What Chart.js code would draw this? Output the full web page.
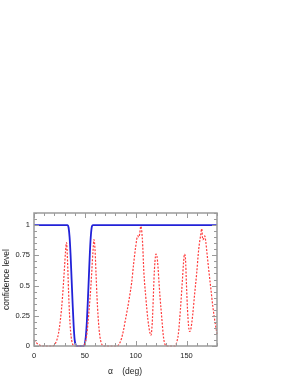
<!DOCTYPE html>
<html>
<head>
<meta charset="utf-8">
<script src="https://cdn.jsdelivr.net/npm/chart.js@4"></script>
<style>
  html, body { margin: 0; padding: 0; background: #fff; }
  #wrap { width: 300px; height: 388px; }
</style>
</head>
<body>
<div id="wrap"><canvas id="chart1"></canvas></div>
<script>
// angle (deg) and confidence level for the two curves
const blueAlpha = [0, 33, 34, 35, 36, 37, 38, 39, 40, 41, 42, 49, 50, 51, 52, 53, 54, 55, 56, 57, 58, 180];
const blueLevel = [1, 1, 0.98, 0.9, 0.75, 0.55, 0.35, 0.17, 0.05, 0.01, 0, 0, 0.02, 0.08, 0.2, 0.38, 0.58, 0.78, 0.92, 0.99, 1, 1];

const redAlpha = [0, 2, 4, 6, 8, 18, 21, 24, 26, 28, 30, 31, 32, 33, 34, 35, 36, 37, 38, 40,
  48, 50, 52, 54, 56, 58, 59, 60, 61, 62, 63, 64, 65, 66, 68,
  82, 84, 86, 88, 90, 92, 94, 96, 98, 100, 102, 103, 104, 105, 106, 107, 108, 110, 112, 114, 115,
  116, 117, 118, 119, 120, 121, 122, 123, 124, 125, 126, 127, 128, 129, 130,
  139, 140, 142, 144, 146, 147, 148, 149, 150, 151, 152, 153, 154, 156, 158, 160, 162, 164, 165,
  166, 167, 168, 169, 170, 172, 174, 176, 178, 180];
const redLevel = [0.05, 0.03, 0.015, 0.005, 0, 0, 0.02, 0.1, 0.22, 0.4, 0.65, 0.78, 0.855, 0.7, 0.45, 0.25, 0.12, 0.05, 0.015, 0,
  0, 0.02, 0.1, 0.28, 0.5, 0.78, 0.88, 0.8, 0.6, 0.4, 0.25, 0.14, 0.07, 0.03, 0,
  0, 0.02, 0.06, 0.13, 0.22, 0.31, 0.41, 0.52, 0.68, 0.82, 0.91, 0.9, 0.93, 0.99, 0.95, 0.82, 0.62, 0.4, 0.22, 0.11, 0.09,
  0.15, 0.32, 0.55, 0.7, 0.76, 0.74, 0.65, 0.52, 0.4, 0.3, 0.2, 0.1, 0.04, 0.01, 0,
  0, 0.02, 0.1, 0.3, 0.55, 0.68, 0.76, 0.72, 0.5, 0.3, 0.17, 0.12, 0.13, 0.25, 0.43, 0.6, 0.8, 0.92, 0.97,
  0.88, 0.89, 0.91, 0.86, 0.78, 0.62, 0.47, 0.32, 0.2, 0.1];

const xTicks = [0, 50, 100, 150];
const yTicks = [0, 0.25, 0.5, 0.75, 1];
const xTitle = 'α    (deg)';
const yTitle = 'confidence level';

function toPoints(xs, ys) {
  return xs.map((x, i) => ({ x: x, y: ys[i] }));
}

// frame, inward ticks and axis titles
const framePlugin = {
  id: 'frame',
  afterDraw(chart) {
    const ctx = chart.ctx;
    const a = chart.chartArea;
    const xs = chart.scales.x, ys = chart.scales.y;
    ctx.save();
    ctx.strokeStyle = '#9a9a9a';
    ctx.lineWidth = 1.5;
    ctx.strokeRect(a.left, a.top, a.right - a.left, a.bottom - a.top);
    ctx.lineWidth = 1;
    ctx.beginPath();
    for (let v = 0; v <= 180; v += 10) {
      const px = Math.round(xs.getPixelForValue(v)) + 0.5;
      const len = v % 50 === 0 ? 5 : 3;
      ctx.moveTo(px, a.bottom); ctx.lineTo(px, a.bottom - len);
      ctx.moveTo(px, a.top); ctx.lineTo(px, a.top + len);
    }
    for (let k = 0; k <= 22; k++) {
      const v = k * 0.05;
      const py = Math.round(ys.getPixelForValue(v)) + 0.5;
      const len = k % 5 === 0 ? 5 : 3;
      ctx.moveTo(a.left, py); ctx.lineTo(a.left + len, py);
      ctx.moveTo(a.right, py); ctx.lineTo(a.right - len, py);
    }
    ctx.stroke();

    ctx.fillStyle = '#222';
    ctx.font = '8.5px "Liberation Sans", Arial, sans-serif';
    ctx.textAlign = 'center';
    ctx.textBaseline = 'middle';
    ctx.fillText(xTitle, 125, 372);
    ctx.translate(6.5, (a.top + a.bottom) / 2);
    ctx.rotate(-Math.PI / 2);
    ctx.fillText(yTitle, 0, 0);
    ctx.restore();
  }
};

const ctx = document.getElementById('chart1');
const config = {
  type: 'line',
  data: {
    datasets: [
      {
        label: 'red',
        data: toPoints(redAlpha, redLevel),
        borderColor: '#ff3b3b',
        borderWidth: 1.2,
        borderDash: [2, 1.5],
        pointRadius: 0,
        cubicInterpolationMode: 'monotone'
      },
      {
        label: 'blue',
        data: toPoints(blueAlpha, blueLevel),
        borderColor: '#2222d8',
        borderWidth: 1.8,
        pointRadius: 0,
        cubicInterpolationMode: 'monotone'
      }
    ]
  },
  options: {
    responsive: true,
    maintainAspectRatio: false,
    animation: false,
    clip: false,
    layout: { padding: { top: 213, right: 83, left: 0, bottom: 0 } },
    plugins: { legend: { display: false }, tooltip: { enabled: false } },
    scales: {
      x: {
        type: 'linear',
        min: 0,
        max: 180,
        grid: { display: false, drawTicks: false },
        border: { display: false },
        afterFit(scale) { scale.height = 42; },
        afterBuildTicks(scale) { scale.ticks = xTicks.map(v => ({ value: v })); },
        ticks: {
          padding: 5,
          color: '#222',
          font: { family: '"Liberation Sans", Arial, sans-serif', size: 7.5 },
          maxRotation: 0,
          callback: v => String(v)
        }
      },
      y: {
        type: 'linear',
        min: 0,
        max: 1.1,
        grid: { display: false, drawTicks: false },
        border: { display: false },
        afterFit(scale) { scale.width = 34; },
        afterBuildTicks(scale) { scale.ticks = yTicks.map(v => ({ value: v })); },
        ticks: {
          padding: 4,
          color: '#222',
          font: { family: '"Liberation Sans", Arial, sans-serif', size: 7.5 },
          callback: v => String(v)
        }
      }
    }
  },
  plugins: [framePlugin]
};

const myChart = new Chart(ctx, config);
</script>
</body>
</html>
